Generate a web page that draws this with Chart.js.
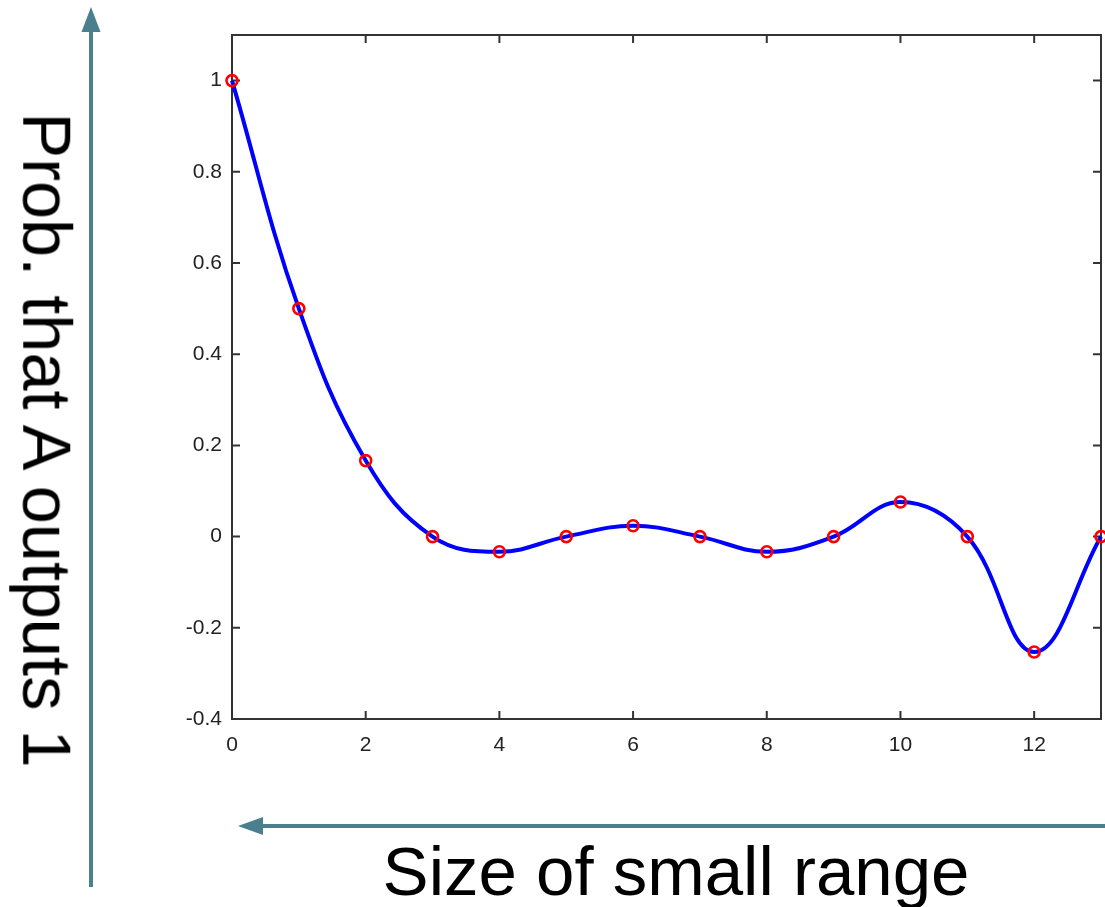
<!DOCTYPE html>
<html>
<head>
<meta charset="utf-8">
<script src="https://cdn.jsdelivr.net/npm/chart.js@4"></script>
<style>
  html, body { margin: 0; padding: 0; background: #ffffff; }
  #wrap { position: relative; width: 1105px; height: 907px; overflow: hidden; }
  #c { position: absolute; left: 0; top: 0; }
  .title { position: absolute; font-family: "Liberation Sans", Arial, sans-serif; color: #000; white-space: nowrap; }
  #ytitle { font-size: 68.5px; line-height: 68.5px; left: 46px; top: 440px; transform: translate(-50%, -50%) rotate(90deg); }
  #xtitle { font-size: 69px; line-height: 69px; left: 276px; top: 837px; width: 800px; text-align: center; }
</style>
</head>
<body>
<div id="wrap">
  <canvas id="c" width="1105" height="907"></canvas>
  <div class="title" id="ytitle">Prob. that A outputs 1</div>
  <div class="title" id="xtitle">Size of small range</div>
</div>
<script>
// Data
const rangeSizes = [0, 1, 2, 3, 4, 5, 6, 7, 8, 9, 10, 11, 12, 13];
const probValues = [1, 0.5, 0.1667, 0, -0.0333, 0, 0.0238, 0, -0.0333, 0, 0.0758, 0, -0.2531, 0];
const xTickLabels = ['0', '2', '4', '6', '8', '10', '12'];
const yTickLabels = ['-0.4', '-0.2', '0', '0.2', '0.4', '0.6', '0.8', '1'];

const points = rangeSizes.map((x, i) => ({ x: x, y: probValues[i] }));

const boxPlugin = {
  id: 'boxTicks',
  beforeDatasetsDraw(chart) {
    const { ctx, chartArea: { left, right, top, bottom }, scales: { x, y } } = chart;
    ctx.save();
    ctx.strokeStyle = '#333333';
    ctx.lineWidth = 2;
    ctx.strokeRect(left, top, right - left, bottom - top);
    const tl = 8;
    ctx.beginPath();
    x.ticks.forEach(t => {
      const px = x.getPixelForValue(t.value);
      ctx.moveTo(px, bottom); ctx.lineTo(px, bottom - tl);
      ctx.moveTo(px, top); ctx.lineTo(px, top + tl);
    });
    y.ticks.forEach(t => {
      const py = y.getPixelForValue(t.value);
      ctx.moveTo(left, py); ctx.lineTo(left + tl, py);
      ctx.moveTo(right, py); ctx.lineTo(right - tl, py);
    });
    ctx.stroke();
    ctx.restore();
  },
  afterDraw(chart) {
    const ctx = chart.ctx;
    ctx.save();
    const col = '#4a7f8e';
    ctx.strokeStyle = col;
    ctx.fillStyle = col;
    ctx.lineWidth = 4;
    // vertical arrow (pointing up)
    ctx.beginPath();
    ctx.moveTo(91, 887); ctx.lineTo(91, 28);
    ctx.stroke();
    ctx.beginPath();
    ctx.moveTo(91, 7); ctx.lineTo(100.5, 32); ctx.lineTo(81.5, 32); ctx.closePath();
    ctx.fill();
    // horizontal arrow (pointing left)
    ctx.beginPath();
    ctx.moveTo(1105, 826); ctx.lineTo(258, 826);
    ctx.stroke();
    ctx.beginPath();
    ctx.moveTo(238, 826); ctx.lineTo(263, 817); ctx.lineTo(263, 835); ctx.closePath();
    ctx.fill();
    ctx.restore();
  }
};

new Chart(document.getElementById('c'), {
  type: 'line',
  data: {
    datasets: [{
      data: points,
      borderColor: '#0000ff',
      borderWidth: 4,
      tension: 0.4,
      pointStyle: 'circle',
      pointRadius: 5.5,
      pointBorderWidth: 2.6,
      pointBorderColor: '#ff0000',
      pointBackgroundColor: 'rgba(0,0,0,0)',
      fill: false,
      clip: 10
    }]
  },
  options: {
    responsive: false,
    animation: false,
    devicePixelRatio: 1,
    layout: { autoPadding: false, padding: { top: 35, right: 4, left: 0, bottom: 0 } },
    plugins: { legend: { display: false }, tooltip: { enabled: false } },
    scales: {
      x: {
        type: 'linear',
        min: 0, max: 13,
        afterFit(scale) { scale.height = 188; scale.paddingRight = 0; scale.paddingLeft = 0; },
        grid: { display: false, drawTicks: false },
        border: { display: false },
        ticks: {
          stepSize: 2,
          includeBounds: false,
          maxRotation: 0,
          padding: 14,
          color: '#222222',
          font: { family: 'Liberation Sans', size: 21 },
          callback: (v) => {
            const i = Math.round(v / 2);
            return xTickLabels[i] !== undefined ? xTickLabels[i] : '';
          }
        }
      },
      y: {
        type: 'linear',
        min: -0.4, max: 1.1,
        afterFit(scale) { scale.width = 232; scale.paddingTop = 0; scale.paddingBottom = 0; },
        grid: { display: false, drawTicks: false },
        border: { display: false },
        ticks: {
          stepSize: 0.2,
          includeBounds: false,
          padding: 10,
          color: '#222222',
          font: { family: 'Liberation Sans', size: 21 },
          callback: (v) => {
            const i = Math.round((v + 0.4) / 0.2);
            return yTickLabels[i] !== undefined ? yTickLabels[i] : '';
          }
        }
      }
    }
  },
  plugins: [boxPlugin]
});
</script>
</body>
</html>
